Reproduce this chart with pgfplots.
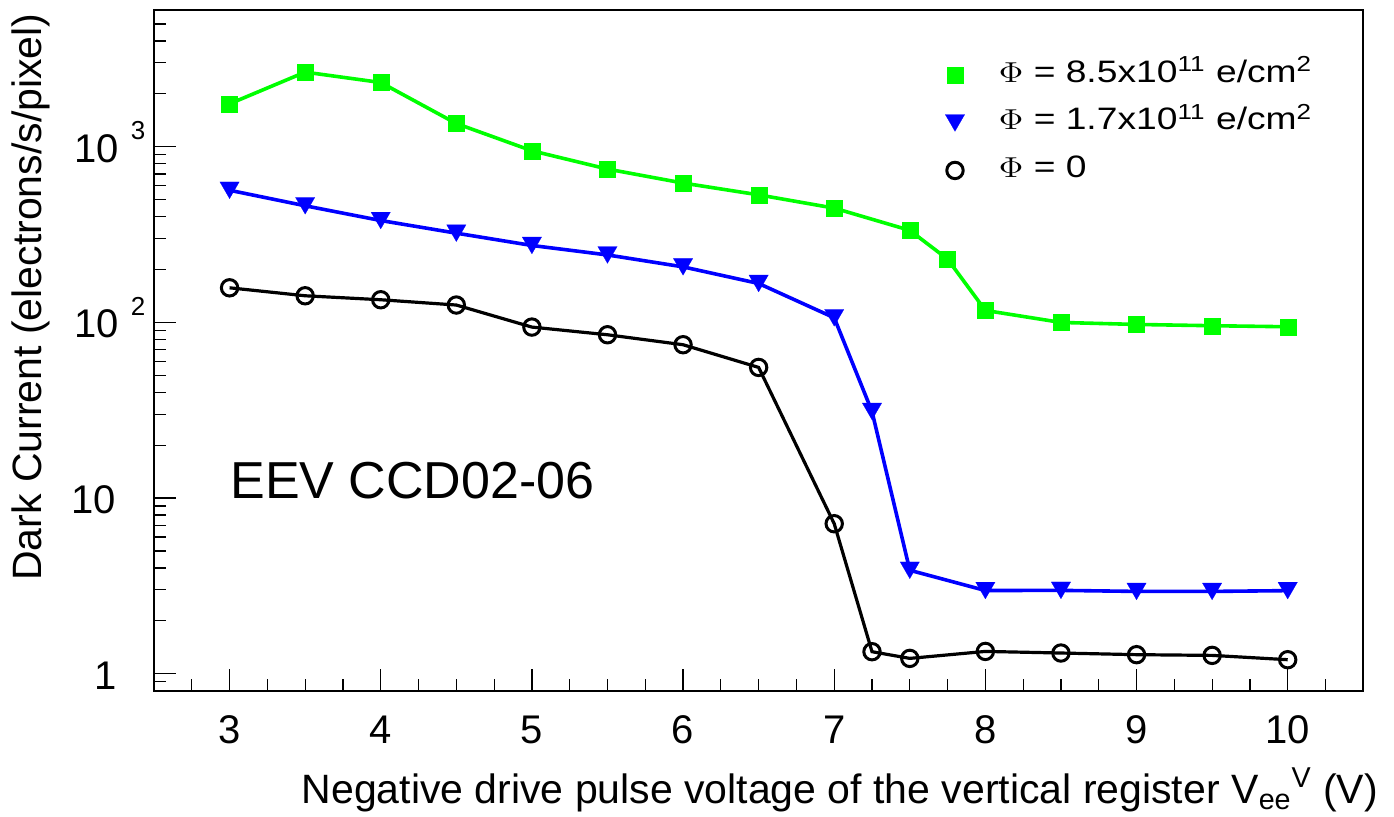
\documentclass[border=0pt]{standalone}
\usepackage{fontspec}
\setmainfont{Liberation Sans}
\usepackage{pgfplots}
\pgfplotsset{compat=1.18}
\usepackage{graphicx}
\definecolor{rgreen}{RGB}{0,255,0}
\definecolor{rblue}{RGB}{0,0,255}
\pgfplotsset{
  legend image code/.code={%
    \path[draw=none,fill=none] (-6pt,-6pt) rectangle (22pt,16pt);
    \draw[#1] plot coordinates {(0pt,3.3pt)};%
  }
}
\newcommand{\legtxt}[1]{\scalebox{1.2}[1]{#1}}
\begin{document}
\begin{tikzpicture}
\path[use as bounding box] (0,0) rectangle (697pt,408pt);
\begin{axis}[
  at={(77pt,62.65pt)}, anchor=south west,
  scale only axis, width=604.65pt, height=340.35pt,
  ymode=log, xmin=2.5, xmax=10.5, ymin=0.8, ymax=6000,
  axis line style={line width=0.8pt},
  tick pos=left, tick align=inside,
  major tick length=11pt, minor tick length=5.8pt,
  every tick/.style={black, line width=0.6pt},
  xtick={3,4,5,6,7,8,9,10},
  xticklabels={3,4,5,6,7,8,9,10},
  minor xtick={2.75,3.25,3.5,3.75,4.25,4.5,4.75,5.25,5.5,5.75,6.25,6.5,6.75,7.25,7.5,7.75,8.25,8.5,8.75,9.25,9.5,9.75,10.25},
  ytick={1,10,100,1000},
  minor ytick={0.9,2,3,4,5,6,7,8,9,20,30,40,50,60,70,80,90,200,300,400,500,600,700,800,900,2000,3000,4000,5000},
  yticklabels={{1\hspace*{14.5pt}},{10\hspace*{14.8pt}},{10\hspace*{6pt}\raisebox{11.3pt}{\fontsize{13}{13}\selectfont 2}},{10\hspace*{6pt}\raisebox{11.3pt}{\fontsize{13}{13}\selectfont 3}}},
  xticklabel style={anchor=base, inner sep=0pt, yshift=-26.5pt, font=\fontsize{20}{24}\selectfont},
  yticklabel style={anchor=base east, inner sep=0pt, xshift=-4.15pt, yshift=-7.7pt, font=\fontsize{20}{24}\selectfont},
  xlabel={Negative drive pulse voltage of the vertical register V\textsubscript{ee}\textsuperscript{V} (V)},
  xlabel style={at={(axis description cs:1.0124,-0.1650)}, anchor=base east, inner sep=0pt, font=\fontsize{20.5}{24}\selectfont},
  ylabel={Dark Current (electrons/s/pixel)},
  ylabel style={at={(axis description cs:-0.09287,0.99559)}, anchor=base east, inner sep=0pt, font=\fontsize{20.5}{24}\selectfont},
  legend style={at={(axis description cs:0.65245,0.9412)}, anchor=north west, draw=none, fill=none,
    inner sep=0pt, outer sep=0pt, row sep=1.75pt, column sep=0pt,
    nodes={inner sep=0pt, outer sep=0pt}, cells={anchor=base west},
    font=\fontsize{15.5}{17}\selectfont},
]
\addplot[color=rgreen, line width=1.8pt, mark=square*, mark size=4pt,
  mark options={solid, line width=0.1pt, fill=rgreen}] coordinates {
  (3,1754) (3.5,2658) (4,2320) (4.5,1355) (5,948) (5.5,746) (6,621) (6.5,532)
  (7,447) (7.5,334) (7.75,229) (8,116.9) (8.5,99.9) (9,97.3) (9.5,95.7) (10,94.4)
};
\addlegendentry{\legtxt{$\Phi$ = 8.5x10\textsuperscript{11} e/cm\textsuperscript{2}}}
\addplot[color=rblue, line width=1.8pt, mark=triangle*, mark size=5.6pt,
  mark options={solid, line width=0.1pt, fill=rblue, rotate=180, yshift=-1.4pt}] coordinates {
  (3,565) (3.5,461) (4,380) (4.5,322) (5,274) (5.5,242) (6,207) (6.5,166.5)
  (7,106.2) (7.25,31.1) (7.5,3.88) (8,2.975) (8.5,2.98) (9,2.94) (9.5,2.94) (10,2.97)
};
\addlegendentry{\legtxt{$\Phi$ = 1.7x10\textsuperscript{11} e/cm\textsuperscript{2}}}
\addplot[color=black, line width=1.6pt, mark=o, mark size=4.1pt,
  mark options={solid, line width=1.5pt}] coordinates {
  (3,157.3) (3.5,141.7) (4,134.5) (4.5,125.5) (5,94.0) (5.5,85.0) (6,74.6) (6.5,55.4)
  (7,7.14) (7.25,1.334) (7.5,1.222) (8,1.339) (8.5,1.311) (9,1.283) (9.5,1.271) (10,1.201)
};
\addlegendentry{\legtxt{$\Phi$ = 0}}
\node[anchor=base west, inner sep=0pt, font=\fontsize{26}{30}\selectfont] at (axis description cs:0.06285,0.28265) {EEV CCD02-06};
\end{axis}
\end{tikzpicture}
\end{document}
